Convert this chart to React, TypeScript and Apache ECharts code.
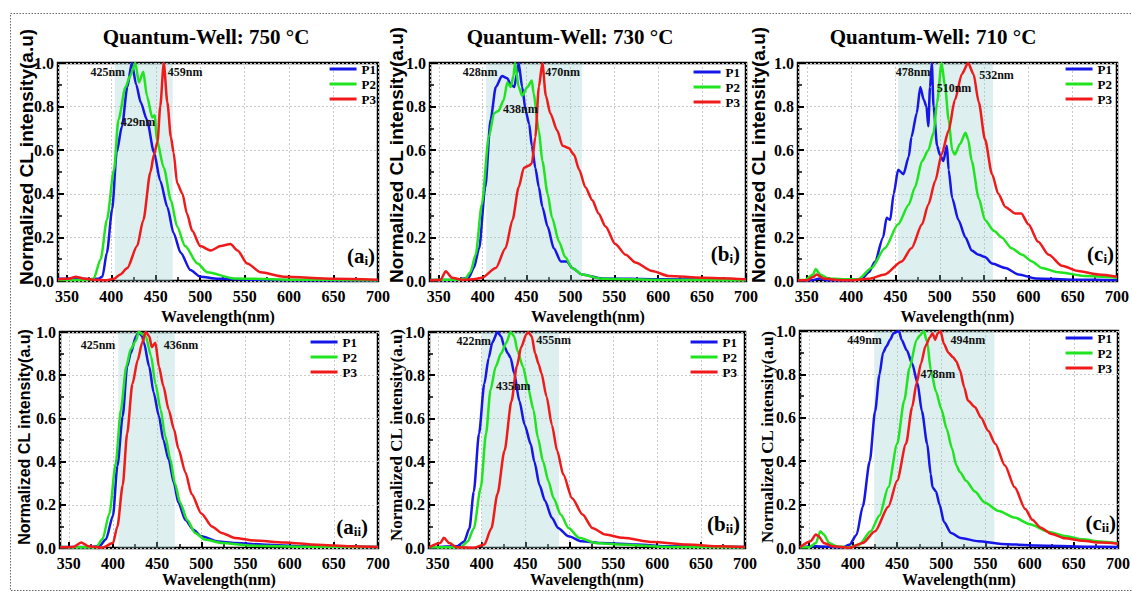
import React, { useEffect, useRef } from 'react';
import * as echarts from 'echarts';

type Pt = [number, number];

// ---------- data (wavelength nm, normalized intensity) ----------
const ai_P1: Pt[] = [[340,0.01],[360,0.012],[375,0.008],[385,0.01],[390,0.02],[395,0.13],[401,0.33],[406,0.59],[412,0.71],[418,0.89],[423,1.0],[428,0.9],[433,0.82],[440,0.74],[448,0.59],[455,0.46],[463,0.34],[470,0.22],[478,0.13],[489,0.05],[500,0.02],[520,0.01],[560,0.006],[620,0.004],[700,0.003]];
const ai_P2: Pt[] = [[340,0.005],[370,0.005],[380,0.01],[388,0.1],[395,0.28],[403,0.51],[408,0.74],[416,0.89],[421,0.94],[427,1.0],[431,0.91],[436,0.96],[440,0.85],[446,0.75],[449,0.76],[451,0.65],[459,0.52],[467,0.37],[474,0.25],[483,0.16],[497,0.08],[508,0.04],[538,0.012],[600,0.006],[700,0.004]];
const ai_P3: Pt[] = [[340,0.008],[352,0.01],[360,0.02],[368,0.012],[380,0.006],[395,0.004],[403,0.01],[410,0.03],[418,0.06],[429,0.16],[436,0.28],[444,0.5],[448,0.58],[452,0.64],[455,0.8],[459,1.0],[463,0.82],[467,0.66],[470,0.59],[474,0.45],[480,0.4],[485,0.31],[491,0.23],[500,0.16],[512,0.14],[523,0.16],[534,0.17],[542,0.14],[553,0.08],[568,0.04],[594,0.02],[650,0.01],[700,0.006]];

const bi_P1: Pt[] = [[340,0.005],[370,0.005],[384,0.015],[390,0.06],[396,0.15],[403,0.43],[409,0.74],[415,0.89],[422,0.94],[428,0.93],[432,0.9],[436,0.89],[439,0.95],[441,1.0],[445,0.89],[449,0.78],[453,0.72],[456,0.62],[460,0.52],[464,0.43],[468,0.34],[474,0.25],[481,0.15],[489,0.09],[496,0.09],[502,0.06],[513,0.03],[536,0.012],[600,0.008],[700,0.005]];
const bi_P2: Pt[] = [[340,0.005],[370,0.006],[380,0.01],[386,0.04],[392,0.12],[399,0.35],[407,0.66],[413,0.77],[418,0.78],[424,0.83],[428,0.91],[432,0.89],[435,0.94],[437,1.0],[441,0.89],[445,0.85],[451,0.89],[456,0.92],[458,0.86],[464,0.69],[468,0.55],[474,0.4],[479,0.29],[487,0.18],[494,0.11],[502,0.06],[513,0.03],[536,0.01],[600,0.005],[700,0.004]];
const bi_P3: Pt[] = [[340,0.004],[352,0.005],[358,0.045],[365,0.015],[377,0.005],[390,0.008],[399,0.015],[415,0.06],[426,0.15],[434,0.28],[441,0.43],[447,0.52],[453,0.53],[456,0.54],[460,0.66],[464,0.89],[468,1.0],[472,0.85],[477,0.77],[485,0.69],[491,0.62],[498,0.61],[504,0.58],[510,0.51],[517,0.43],[525,0.37],[532,0.31],[540,0.25],[551,0.17],[563,0.12],[574,0.085],[593,0.046],[612,0.023],[650,0.015],[700,0.008]];

const ci_P1: Pt[] = [[340,0.003],[355,0.003],[365,0.012],[372,0.004],[400,0.004],[412,0.01],[420,0.04],[427,0.09],[436,0.2],[440,0.29],[444,0.28],[448,0.4],[453,0.51],[459,0.49],[465,0.57],[468,0.66],[474,0.77],[478,0.89],[482,0.83],[485,0.8],[487,0.71],[489,0.89],[491,1.0],[493,0.8],[497,0.62],[500,0.58],[504,0.55],[508,0.62],[510,0.51],[514,0.38],[521,0.28],[529,0.2],[536,0.14],[544,0.12],[551,0.11],[559,0.08],[574,0.06],[589,0.03],[608,0.012],[650,0.006],[700,0.004]];
const ci_P2: Pt[] = [[340,0.005],[348,0.005],[357,0.03],[360,0.055],[365,0.03],[374,0.012],[390,0.008],[408,0.008],[423,0.06],[438,0.15],[453,0.26],[465,0.35],[472,0.43],[480,0.55],[487,0.6],[493,0.68],[497,0.82],[502,1.0],[506,0.89],[510,0.74],[514,0.6],[517,0.58],[523,0.63],[529,0.68],[532,0.65],[536,0.55],[544,0.38],[551,0.28],[561,0.23],[570,0.2],[581,0.15],[593,0.12],[604,0.09],[615,0.06],[634,0.04],[664,0.023],[700,0.015]];
const ci_P3: Pt[] = [[340,0.003],[350,0.003],[357,0.018],[361,0.03],[369,0.012],[385,0.005],[401,0.003],[420,0.01],[438,0.03],[457,0.09],[468,0.15],[480,0.26],[487,0.35],[495,0.46],[502,0.58],[510,0.69],[517,0.83],[525,0.95],[532,1.0],[538,0.95],[544,0.82],[551,0.65],[559,0.49],[566,0.4],[574,0.34],[585,0.31],[592,0.31],[600,0.26],[611,0.18],[623,0.12],[638,0.07],[656,0.046],[679,0.03],[700,0.02]];

const aii_P1: Pt[] = [[340,0.005],[375,0.005],[385,0.01],[392,0.04],[400,0.15],[405,0.38],[411,0.61],[416,0.84],[420,0.9],[426,0.98],[429,1.0],[433,0.98],[435,0.95],[441,0.84],[446,0.72],[452,0.61],[457,0.5],[463,0.41],[469,0.3],[474,0.21],[482,0.13],[491,0.085],[500,0.054],[519,0.03],[538,0.023],[575,0.015],[612,0.008],[700,0.005]];
const aii_P2: Pt[] = [[340,0.005],[375,0.003],[381,0.005],[388,0.04],[396,0.16],[403,0.39],[409,0.64],[415,0.84],[420,0.92],[426,0.96],[429,1.0],[437,0.98],[443,0.89],[448,0.76],[454,0.64],[459,0.52],[465,0.41],[470,0.3],[476,0.21],[484,0.13],[493,0.07],[504,0.039],[523,0.023],[556,0.011],[620,0.006],[700,0.005]];
const aii_P3: Pt[] = [[340,0.003],[355,0.005],[364,0.026],[372,0.008],[388,0.002],[400,0.023],[405,0.1],[411,0.29],[416,0.53],[422,0.76],[428,0.87],[433,0.95],[437,1.0],[441,0.98],[444,0.93],[448,0.95],[452,0.84],[457,0.75],[463,0.64],[469,0.55],[474,0.46],[482,0.35],[489,0.25],[500,0.16],[512,0.1],[523,0.07],[538,0.046],[560,0.035],[594,0.026],[631,0.015],[668,0.008],[700,0.005]];

const bii_P1: Pt[] = [[340,0.002],[372,0.008],[380,0.03],[386,0.09],[391,0.26],[397,0.53],[403,0.76],[408,0.88],[412,0.95],[418,1.0],[422,0.98],[426,0.93],[430,0.9],[433,0.88],[437,0.81],[443,0.68],[449,0.57],[456,0.48],[460,0.4],[466,0.29],[472,0.22],[480,0.14],[487,0.093],[499,0.054],[514,0.031],[537,0.023],[576,0.016],[614,0.008],[700,0.005]];
const bii_P2: Pt[] = [[340,0.003],[376,0.003],[384,0.03],[391,0.09],[399,0.28],[405,0.53],[410,0.73],[416,0.84],[422,0.9],[428,0.95],[433,1.0],[437,0.98],[441,0.91],[447,0.84],[453,0.74],[459,0.64],[464,0.51],[470,0.4],[476,0.31],[482,0.23],[490,0.155],[499,0.093],[511,0.047],[530,0.023],[557,0.016],[614,0.005],[700,0.003]];
const bii_P3: Pt[] = [[340,0.003],[353,0.023],[357,0.047],[363,0.023],[372,0.003],[391,0.001],[403,0.016],[411,0.09],[418,0.25],[426,0.45],[434,0.68],[440,0.84],[445,0.93],[451,0.99],[453,1.0],[457,0.98],[461,0.9],[465,0.85],[468,0.81],[474,0.7],[480,0.57],[486,0.45],[493,0.34],[503,0.23],[515,0.155],[526,0.093],[541,0.062],[561,0.047],[595,0.028],[634,0.016],[672,0.008],[700,0.005]];

const cii_P1: Pt[] = [[340,0.003],[358,0.008],[388,0.003],[396,0.015],[404,0.06],[411,0.19],[419,0.4],[425,0.63],[430,0.8],[434,0.9],[438,0.93],[442,0.96],[446,0.99],[452,1.0],[455,0.96],[461,0.91],[467,0.85],[473,0.76],[478,0.63],[484,0.48],[488,0.34],[490,0.28],[494,0.26],[498,0.2],[503,0.12],[511,0.069],[522,0.046],[542,0.031],[568,0.019],[607,0.012],[664,0.006],[700,0.005]];
const cii_P2: Pt[] = [[340,0.003],[350,0.003],[358,0.023],[363,0.077],[367,0.062],[373,0.023],[381,0.008],[396,0.003],[407,0.015],[420,0.077],[430,0.15],[440,0.28],[450,0.48],[458,0.68],[464,0.83],[472,0.96],[476,0.98],[480,1.0],[484,0.95],[488,0.82],[494,0.72],[500,0.64],[506,0.55],[512,0.46],[517,0.38],[521,0.35],[528,0.31],[538,0.26],[549,0.21],[565,0.17],[583,0.14],[600,0.11],[622,0.074],[640,0.055],[660,0.04],[680,0.03],[700,0.022]];
const cii_P3: Pt[] = [[340,0.003],[352,0.031],[358,0.062],[361,0.054],[367,0.023],[377,0.008],[396,0.001],[411,0.023],[425,0.077],[440,0.19],[450,0.31],[460,0.48],[467,0.65],[472,0.76],[477,0.85],[482,0.93],[487,0.97],[490,0.99],[493,0.96],[496,0.99],[499,1.0],[503,0.94],[508,0.9],[513,0.88],[517,0.86],[521,0.82],[526,0.74],[530,0.68],[538,0.65],[545,0.6],[553,0.54],[561,0.48],[572,0.38],[583,0.28],[595,0.18],[603,0.13],[612,0.095],[625,0.065],[640,0.045],[660,0.033],[680,0.025],[700,0.02]];

const seriesNames = ['P1', 'P2', 'P3'];
const seriesColors = ['#1616e8', '#1fe41f', '#f01a1a'];
const panelTitles = ['Quantum-Well: 750 °C', 'Quantum-Well: 730 °C', 'Quantum-Well: 710 °C'];
const xAxisTitle = 'Wavelength(nm)';
const yAxisTitle = 'Normalized CL intensity(a.u)';
const panelLetters = ['a', 'b', 'c', 'a', 'b', 'c'];
const panelSubs = ['i', 'i', 'i', 'ii', 'ii', 'ii'];
const panelData: Pt[][][] = [
  [ai_P1, ai_P2, ai_P3], [bi_P1, bi_P2, bi_P3], [ci_P1, ci_P2, ci_P3],
  [aii_P1, aii_P2, aii_P3], [bii_P1, bii_P2, bii_P3], [cii_P1, cii_P2, cii_P3],
];
// shaded wavelength bands (nm)
const bandRanges: Pt[] = [[404, 469], [404, 513], [453, 560], [406, 470], [400, 488], [424, 560]];
// peak annotations
const peakLabels: string[][] = [
  ['425nm', '459nm', '429nm'], ['428nm', '470nm', '438nm'], ['478nm', '532nm', '510nm'],
  ['425nm', '436nm'], ['422nm', '455nm', '435nm'], ['449nm', '494nm', '478nm'],
];

// ---------- layout ----------
const SERIF = 'Times New Roman, Liberation Serif, DejaVu Serif, serif';
const SANS = 'Arial, Liberation Sans, Helvetica, sans-serif';

const peakLabelAt: Pt[][] = [
  [[396, 0.96], [483, 0.96], [430, 0.73]],
  [[397, 0.96], [491, 0.96], [443, 0.79]],
  [[470, 0.96], [564, 0.945], [516, 0.885]],
  [[383, 0.94], [477, 0.94]],
  [[391, 0.96], [482, 0.965], [436, 0.75]],
  [[413, 0.96], [530, 0.96], [496, 0.8]],
];

const layouts = [
  { grid: [58, 63, 320, 218], legendRight: 756, legendTop: 62.5, yName: [26, 157, SANS, 19], tag: [375, 256], nameGap: 27 },
  { grid: [430, 63, 316, 218], legendRight: 392, legendTop: 65.5, yName: [396, 155, SANS, 19], tag: [740, 254], nameGap: 27 },
  { grid: [798, 63, 319, 218], legendRight: 20, legendTop: 62.5, yName: [758, 155, SANS, 19], tag: [1114, 254], nameGap: 27 },
  { grid: [60, 332, 318, 216], legendRight: 775, legendTop: 335.5, yName: [24, 437, SANS, 16], tag: [368, 527], nameGap: 21 },
  { grid: [429, 332, 316, 216], legendRight: 395, legendTop: 335.5, yName: [396, 435, SERIF, 17], tag: [740, 524], nameGap: 21 },
  { grid: [800, 331, 318, 217], legendRight: 20, legendTop: 331.5, yName: [767, 437, SERIF, 17], tag: [1116, 523], nameGap: 21 },
];
const titleCenters: Pt[] = [[206, 26], [570, 26], [933, 26]];

function buildOption(): any {
  const tickLabel = { fontFamily: SERIF, fontWeight: 'bold', fontSize: 16, color: '#000' };
  const series: any[] = [];
  panelData.forEach((group, i) => {
    group.forEach((d, k) => {
      const s: any = {
        type: 'line',
        name: seriesNames[k],
        xAxisIndex: i,
        yAxisIndex: i,
        data: d,
        symbol: 'none',
        showSymbol: false,
        smooth: 0.25,
        smoothMonotone: 'x',
        color: seriesColors[k],
        lineStyle: { color: seriesColors[k], width: 2.5 },
        emphasis: { disabled: true },
        z: 3,
      };
      if (k === 0) {
        s.markArea = {
          silent: true,
          itemStyle: { color: 'rgba(150,205,205,0.32)' },
          data: [[{ xAxis: bandRanges[i][0] }, { xAxis: bandRanges[i][1] }]],
        };
        s.markPoint = {
          silent: true,
          symbol: 'rect',
          symbolSize: 1,
          itemStyle: { color: 'rgba(0,0,0,0)' },
          label: {
            show: true, position: 'inside', formatter: '{b}',
            fontFamily: SERIF, fontWeight: 'bold', fontSize: 12, color: '#111',
          },
          data: peakLabels[i].map((t, j) => ({ name: t, coord: peakLabelAt[i][j] })),
        };
      }
      series.push(s);
    });
  });

  const graphic: any[] = [
    {
      type: 'polyline',
      silent: true,
      shape: { points: [[1140, 13.5], [10.5, 13.5], [10.5, 590.5], [1140, 590.5]] },
      style: { stroke: '#666', lineWidth: 1, lineDash: [1.5, 1.5], fill: null },
    },
  ];
  layouts.forEach((L, i) => {
    graphic.push({
      type: 'text',
      silent: true,
      x: L.yName[0] as number,
      y: L.yName[1] as number,
      rotation: Math.PI / 2,
      style: {
        text: yAxisTitle,
        fontFamily: L.yName[2] as string,
        fontSize: L.yName[3] as number,
        fontWeight: 'bold',
        fill: '#000',
        align: 'center',
        verticalAlign: 'middle',
      },
    });
    graphic.push({
      type: 'text',
      silent: true,
      x: L.tag[0],
      y: L.tag[1],
      z: 10,
      style: {
        text: `{m|(${panelLetters[i]}}{s|${panelSubs[i]}}{m|)}`,
        align: 'right',
        verticalAlign: 'middle',
        rich: {
          m: { fontFamily: SERIF, fontWeight: 'bold', fontSize: 21, fill: '#000' },
          s: { fontFamily: SERIF, fontWeight: 'bold', fontSize: 13, fill: '#000', verticalAlign: 'bottom' },
        },
      },
    });
  });

  return {
    animation: false,
    backgroundColor: '#ffffff',
    title: panelTitles.map((t, i) => ({
      text: t,
      left: titleCenters[i][0],
      top: titleCenters[i][1],
      textAlign: 'center',
      padding: 0,
      textStyle: { fontFamily: SERIF, fontWeight: 'bold', fontSize: 21, color: '#000' },
    })),
    legend: layouts.map((L) => ({
      data: seriesNames,
      orient: 'vertical',
      right: L.legendRight,
      top: L.legendTop,
      padding: 0,
      icon: 'rect',
      itemWidth: 27,
      itemHeight: 3,
      itemGap: 2,
      selectedMode: false,
      textStyle: { fontFamily: SERIF, fontWeight: 'bold', fontSize: 13, color: '#000', lineHeight: 13 },
    })),
    grid: layouts.map((L) => ({
      left: L.grid[0], top: L.grid[1], width: L.grid[2], height: L.grid[3],
      show: true, borderColor: '#000', borderWidth: 2.5, backgroundColor: 'rgba(0,0,0,0)',
      containLabel: false, outerBoundsMode: 'none',
    })),
    xAxis: layouts.map((L, i) => ({
      type: 'value',
      gridIndex: i,
      min: 340,
      max: 700,
      splitNumber: 7,
      name: xAxisTitle,
      nameLocation: 'middle',
      nameGap: L.nameGap,
      nameTextStyle: { fontFamily: SERIF, fontWeight: 'bold', fontSize: 16, color: '#000' },
      axisLine: { show: false },
      axisTick: { show: true, inside: true, length: 6, lineStyle: { color: '#000', width: 2 } },
      minorTick: { show: true, splitNumber: 2, length: 4, lineStyle: { color: '#000', width: 1.5 } },
      axisLabel: {
        ...tickLabel,
        margin: 7,
        formatter: (v: number) => (v % 50 === 0 ? String(v) : ''),
      },
      splitLine: { show: true, lineStyle: { color: '#c9c9c9', type: [2, 2], width: 1 } },
    })),
    yAxis: layouts.map((L, i) => ({
      type: 'value',
      gridIndex: i,
      min: 0,
      max: 1,
      interval: 0.2,
      axisLine: { show: false },
      axisTick: { show: true, inside: true, length: 6, lineStyle: { color: '#000', width: 2 } },
      minorTick: { show: true, splitNumber: 2, length: 4, lineStyle: { color: '#000', width: 1.5 } },
      axisLabel: { ...tickLabel, margin: 4, formatter: (v: number) => v.toFixed(1) },
      splitLine: { show: true, lineStyle: { color: '#c9c9c9', type: [2, 2], width: 1 } },
    })),
    series,
    graphic,
  };
}

export default function App() {
  const ref = useRef<HTMLDivElement>(null);
  useEffect(() => {
    document.body.style.margin = '0';
    if (!ref.current) return;
    const chart = echarts.init(ref.current, undefined, { renderer: 'svg' });
    chart.setOption(buildOption());
    return () => chart.dispose();
  }, []);
  return <div ref={ref} style={{ width: 1132, height: 593 }} />;
}
